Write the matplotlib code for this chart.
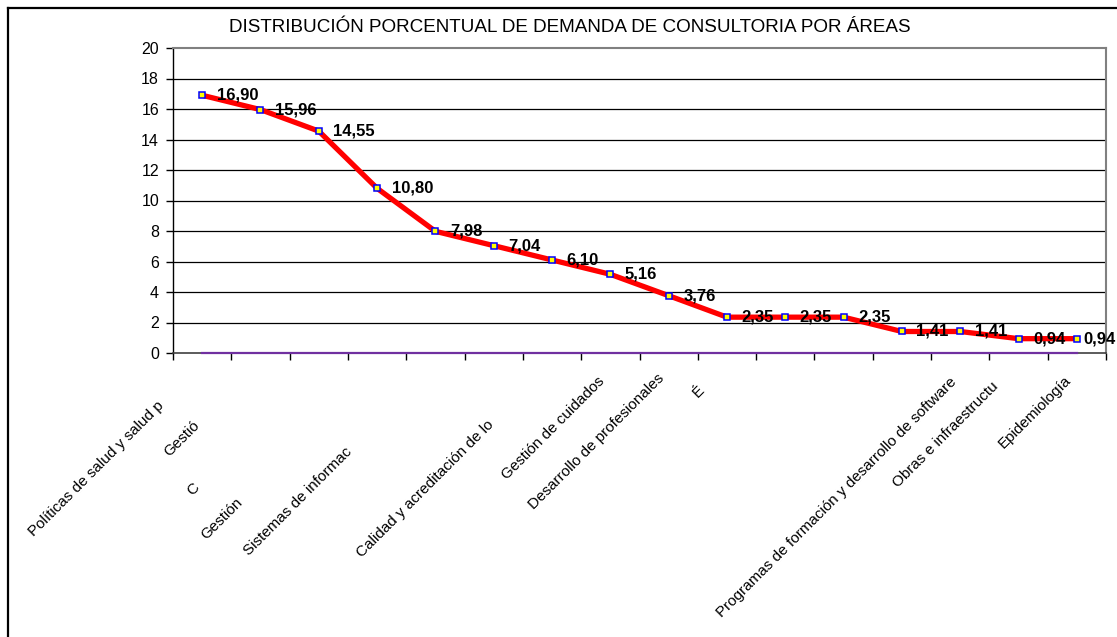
import numpy as np
import matplotlib
matplotlib.use("Agg")
import matplotlib.pyplot as plt
from matplotlib.lines import Line2D

plt.rcParams['font.family'] = ['Liberation Sans', 'DejaVu Sans']

# ---- data -------------------------------------------------------------
title = "DISTRIBUCIÓN PORCENTUAL DE DEMANDA DE CONSULTORIA POR ÁREAS"
percentages = [16.90, 15.96, 14.55, 10.80, 7.98, 7.04, 6.10, 5.16,
               3.76, 2.35, 2.35, 2.35, 1.41, 1.41, 0.94, 0.94]
baseline_series = [0, 0, 0, 0, 0, 0, 0, 0, 0, 0, 0, 0, 0, 0, 0, 0]
y_ticks = [0, 2, 4, 6, 8, 10, 12, 14, 16, 18, 20]
area_labels = [
    "Políticas de salud y salud p",
    "Gestió",
    "C",
    "Gestión",
    "Sistemas de informac",
    "Calidad y acreditación de lo",
    "Gestión de cuidados",
    "Desarrollo de profesionales",
    "É",
    "Programas de formación y desarrollo de software",
    "Obras e infraestructu",
    "Epidemiología",
]

# ---- layout (pixel positions of the rotated area labels' ends) --------
W, H = 1117, 637
label_ends = [(162, 404), (197, 423), (197, 485), (240, 500), (350, 450),
              (492, 423), (602, 379), (662, 376), (702, 388), (954, 380),
              (996, 384), (1069, 378)]


def fx(x):
    return x / W


def fy(y):
    return 1 - y / H


fig = plt.figure(figsize=(W / 100, H / 100), dpi=100)
fig.patch.set_facecolor("white")

# outer chart frame (top and left edges visible)
fig.add_artist(Line2D([fx(7.5), fx(W + 5)], [fy(7.5), fy(7.5)],
                      color="black", lw=1.6, transform=fig.transFigure))
fig.add_artist(Line2D([fx(7.5), fx(7.5)], [fy(7.5), fy(H + 5)],
                      color="black", lw=1.6, transform=fig.transFigure))

ax = fig.add_axes([fx(173), fy(353), (1106 - 173) / W, (353 - 48) / H])
x = np.arange(len(percentages))

ax.set_xlim(-0.5, len(percentages) - 0.5)
ax.set_ylim(0, 20)
ax.set_yticks(y_ticks)
ax.set_yticklabels([str(v) for v in y_ticks], fontsize=11.5)
ax.set_xticks(np.arange(len(percentages) + 1) - 0.5)
ax.set_xticklabels([])
ax.tick_params(axis="both", direction="out", length=5, width=1, color="black")
ax.tick_params(axis="y", pad=5)

for v in y_ticks[1:-1]:
    ax.axhline(v, color="black", lw=0.9, zorder=1)

for side in ("top", "right"):
    ax.spines[side].set_color("#808080")
    ax.spines[side].set_linewidth(1.5)
ax.spines["left"].set_color("black")
ax.spines["left"].set_linewidth(1.0)
ax.spines["bottom"].set_color("#404040")
ax.spines["bottom"].set_linewidth(1.2)

# zero series along the category axis
ax.plot(x, baseline_series, color="#7030A0", lw=1.6, zorder=3.5,
        clip_on=False)

# main series
ax.plot(x, percentages, color="#FF0000", lw=3.8, zorder=4,
        marker="s", markersize=5, markerfacecolor="#FFFF00",
        markeredgecolor="#0000FF", markeredgewidth=1.1)

last = len(percentages) - 1
for i, (xi, v) in enumerate(zip(x, percentages)):
    dx = 5 if i == last else 10.5
    ax.annotate(f"{v:.2f}".replace(".", ","), (xi, v), xytext=(dx, 0),
                textcoords="offset points", ha="left", va="center",
                fontsize=12, fontweight="bold", zorder=5,
                annotation_clip=False)

fig.text(fx(570), fy(27), title, ha="center", va="center", fontsize=13.6)

for text, (ex, ey) in zip(area_labels, label_ends):
    fig.text(fx(ex), fy(ey), text, rotation=45, rotation_mode="anchor",
             ha="right", va="center", fontsize=11)

fig.savefig("out.png", dpi=100)
